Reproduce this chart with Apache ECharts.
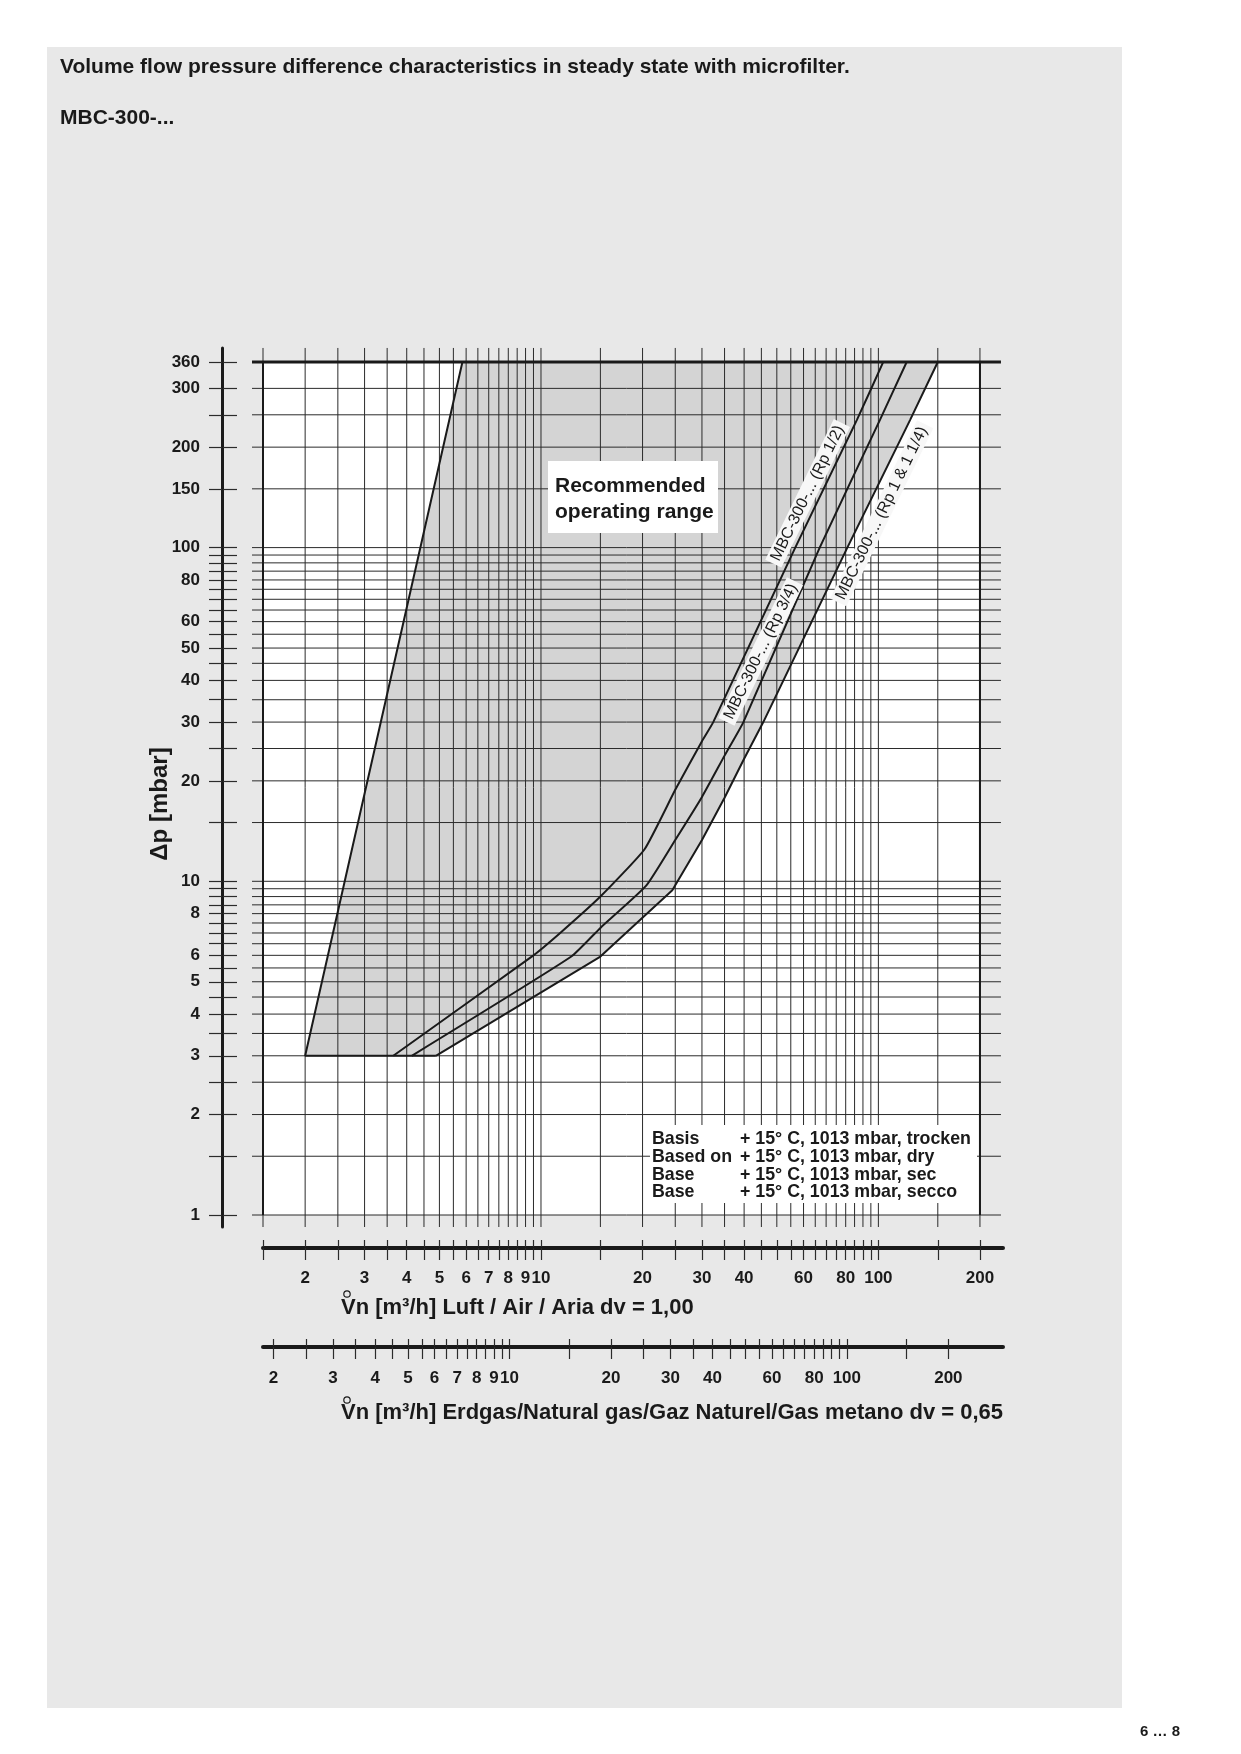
<!DOCTYPE html>
<html>
<head>
<meta charset="utf-8">
<title>MBC-300 Volumenstrom-Druckdifferenz</title>
<style>
  html, body { margin: 0; padding: 0; background: #fff; }
  #chart { width: 1241px; height: 1754px; }
</style>
</head>
<body>
<div id="chart"></div>
<script src="https://cdn.jsdelivr.net/npm/echarts@6/dist/echarts.min.js"></script>
<script>
// grid / tick values (m3/h air, mbar)
var xGrid = [1.5, 2, 2.5, 3, 3.5, 4, 4.5, 5, 5.5, 6, 6.5, 7, 7.5, 8, 8.5, 9, 9.5, 10,
  15, 20, 25, 30, 35, 40, 45, 50, 55, 60, 65, 70, 75, 80, 85, 90, 95, 100, 150, 200];
var yGrid = [1, 1.5, 2, 2.5, 3, 3.5, 4, 4.5, 5, 5.5, 6, 6.5, 7, 7.5, 8, 8.5, 9, 9.5, 10,
  15, 20, 25, 30, 35, 40, 45, 50, 55, 60, 65, 70, 75, 80, 85, 90, 95, 100, 150, 200, 250, 300, 360];
var gasTicks = [2, 2.5, 3, 3.5, 4, 4.5, 5, 5.5, 6, 6.5, 7, 7.5, 8, 8.5, 9, 9.5, 10,
  15, 20, 25, 30, 35, 40, 45, 50, 55, 60, 65, 70, 75, 80, 85, 90, 95, 100, 150, 200];
var yLabels = [1, 2, 3, 4, 5, 6, 8, 10, 20, 30, 40, 50, 60, 80, 100, 150, 200, 300, 360];
var airLabels = [2, 3, 4, 5, 6, 7, 8, 9, 10, 20, 30, 40, 60, 80, 100, 200];
var gasLabels = [2, 3, 4, 5, 6, 7, 8, 9, 10, 20, 30, 40, 60, 80, 100, 200];

// recommended range, left edge
var rangeLeft = [[2, 3], [5.85, 360]];
// characteristic curves [Vn air m3/h, dp mbar]
var rp12 = [[3.65, 3], [9.5, 6], [11.4, 7], [15, 9], [20.3, 12.5], [25, 18.8], [30, 26.3],
  [32.4, 30], [56.7, 100], [86.3, 241], [103.4, 360]];
var rp34 = [[4.14, 3], [12.3, 5.95], [15, 7.25], [20.5, 9.7], [25, 13.3], [30, 17.9], [35, 23.8],
  [39.8, 30], [67, 100], [101, 241], [121.3, 360]];
var rp1114 = [[4.88, 3], [15, 5.95], [24.5, 9.4], [30, 13.3], [35, 17.8], [40, 23.3],
  [45.6, 30], [80.9, 100], [124.1, 241], [150, 360]];

var curveNotes = [
  {text: 'MBC-300-... (Rp 1/2)', at: [61.7, 145.4]},
  {text: 'MBC-300-... (Rp 3/4)', at: [44.8, 48.8]},
  {text: 'MBC-300-... (Rp 1 & 1 1/4)', at: [102.3, 126.7]}
];

var L = Math.log10;
var X0 = 1.5, X1 = 200, Y0 = 1, Y1 = 360;
var DX = 337.4, DY = 333.7;      // px per decade
var PL = 263, PB = 1215;         // pixel of (X0, Y0)
var OV = {l: 11, r: 21, t: 14, b: 12};   // grid lines run past the frame
var K = Math.sqrt(1 / 0.65);     // air -> natural gas (dv = 0.65)
var AXIS_END = 1003;

var xExt = [L(X0) - OV.l / DX, L(X1) + OV.r / DX];
var yExt = [L(Y0) - OV.b / DY, L(Y1) + OV.t / DY];
var plotTop = PB - (L(Y1) - L(Y0)) * DY - OV.t;
var plotH = (yExt[1] - yExt[0]) * DY;
var plotW = (xExt[1] - xExt[0]) * DX;
var axW = AXIS_END - PL;
var airExt = [L(X0), L(X0) + axW / DX];
var gasExt = [L(X0 * K), L(X0 * K) + axW / DX];

var FONT = '"Liberation Sans", Arial, Helvetica, sans-serif';
var INK = '#1a1a1a';

function lg(arr) {
  return arr.map(function (p) { return [L(p[0]), L(p[1])]; });
}
function fmt(v) {
  return String(Math.round(Math.pow(10, v) * 10) / 10);
}
function polygon(points, fill) {
  return function (params, api) {
    var pts = lg(points).map(function (p) { return api.coord(p); });
    return {type: 'polygon', shape: {points: pts}, style: {fill: fill}};
  };
}
function hidden(gridIndex, min, max) {
  return {gridIndex: gridIndex, type: 'value', min: min, max: max, show: false};
}
function tickAxis(gridIndex, pos, ext, ticks, len, labels, margin, line) {
  return {
    gridIndex: gridIndex, type: 'value', position: pos, min: ext[0], max: ext[1],
    axisLine: {show: !!line, onZero: false, lineStyle: {color: INK, width: line || 1}},
    axisTick: {show: true, inside: false, length: len, customValues: ticks.map(L),
      lineStyle: {color: '#2b2b2b', width: 1.2}},
    axisLabel: labels ? {show: true, customValues: labels.map(L), formatter: fmt, margin: margin,
      color: INK, fontFamily: FONT, fontWeight: 'bold', fontSize: 17} : {show: false},
    splitLine: {show: false}
  };
}
function curve(name, pts, smooth, z) {
  return {type: 'line', name: name, data: lg(pts), symbol: 'none', silent: true, z: z || 6,
    smooth: smooth || false,
    lineStyle: {color: INK, width: 2}, xAxisIndex: 0, yAxisIndex: 0};
}

var range = rangeLeft.concat(rp1114.slice().reverse());
var frame = [[X0, Y0], [X1, Y0], [X1, Y1], [X0, Y1]];

var option = {
  animation: false,
  grid: [
    {left: PL - OV.l, top: plotTop, width: plotW, height: plotH},
    {left: 222, top: plotTop, width: 1, height: plotH},
    {left: PL, top: 1247, width: axW, height: 1},
    {left: PL, top: 1346, width: axW, height: 1}
  ],
  xAxis: [
    hidden(0, xExt[0], xExt[1]),
    hidden(1, 0, 1),
    tickAxis(2, 'top', airExt, xGrid, 7),
    tickAxis(2, 'bottom', airExt, xGrid, 12, airLabels, 22, 4),
    tickAxis(3, 'top', gasExt, gasTicks, 7),
    tickAxis(3, 'bottom', gasExt, gasTicks, 12, gasLabels, 23, 4)
  ],
  yAxis: [
    hidden(0, yExt[0], yExt[1]),
    tickAxis(1, 'left', yExt, yGrid, 13, yLabels, 22, 3),
    tickAxis(1, 'right', yExt, yGrid, 14),
    hidden(2, 0, 1),
    hidden(3, 0, 1)
  ],
  graphic: [
    {type: 'rect', z: -10, silent: true, shape: {x: 47, y: 47, width: 1075, height: 1661},
      style: {fill: '#e8e8e8'}},
    {type: 'text', x: 60, y: 67, silent: true, style: {text: 'Volume flow pressure difference characteristics in steady state with microfilter.',
      font: 'bold 21px ' + FONT, fill: INK, verticalAlign: 'middle'}},
    {type: 'text', x: 60, y: 118, silent: true, style: {text: 'MBC-300-...',
      font: 'bold 21px ' + FONT, fill: INK, verticalAlign: 'middle'}},
    {type: 'text', x: 160, y: 804, rotation: Math.PI / 2, silent: true, style: {text: 'Δp [mbar]',
      font: 'bold 24px ' + FONT, fill: INK, align: 'center', verticalAlign: 'middle'}},
    // range box
    {type: 'rect', z: 20, silent: true, shape: {x: 548, y: 461, width: 170, height: 72}, style: {fill: '#fff'}},
    {type: 'text', z: 21, x: 555, y: 499, silent: true, style: {text: 'Recommended\noperating range',
      font: 'bold 21px ' + FONT, fill: INK, verticalAlign: 'middle', lineHeight: 26}},
    // reference conditions
    {type: 'rect', z: 20, silent: true, shape: {x: 650, y: 1125, width: 327, height: 78}, style: {fill: '#fff'}},
    {type: 'text', z: 21, x: 652, y: 1166, silent: true, style: {text: 'Basis\nBased on\nBase\nBase',
      font: 'bold 17.8px ' + FONT, fill: INK, verticalAlign: 'middle', lineHeight: 17.7}},
    {type: 'text', z: 21, x: 740, y: 1166, silent: true, style: {
      text: '+ 15° C, 1013 mbar, trocken\n+ 15° C, 1013 mbar, dry\n+ 15° C, 1013 mbar, sec\n+ 15° C, 1013 mbar, secco',
      font: 'bold 17.8px ' + FONT, fill: INK, verticalAlign: 'middle', lineHeight: 17.7}},
    // axis titles
    {type: 'text', x: 341, y: 1308, silent: true, style: {text: 'Vn [m³/h] Luft / Air / Aria dv = 1,00',
      font: 'bold 22px ' + FONT, fill: INK, verticalAlign: 'middle'}},
    {type: 'circle', silent: true, shape: {cx: 347, cy: 1294, r: 3.2}, style: {fill: 'none', stroke: INK, lineWidth: 1.2}},
    {type: 'text', x: 341, y: 1413, silent: true, style: {text: 'Vn [m³/h] Erdgas/Natural gas/Gaz Naturel/Gas metano dv = 0,65',
      font: 'bold 22px ' + FONT, fill: INK, verticalAlign: 'middle'}},
    {type: 'circle', silent: true, shape: {cx: 347, cy: 1400, r: 3.2}, style: {fill: 'none', stroke: INK, lineWidth: 1.2}},
    {type: 'text', x: 1180, y: 1732, silent: true, style: {text: '6 … 8',
      font: 'bold 15px ' + FONT, fill: INK, align: 'right', verticalAlign: 'middle'}}
  ],
  series: [
    {type: 'custom', name: 'frame', xAxisIndex: 0, yAxisIndex: 0, z: 1, silent: true,
      data: [[L(X0), L(Y0)]], renderItem: polygon(frame, '#fff')},
    {type: 'custom', name: 'range', xAxisIndex: 0, yAxisIndex: 0, z: 2, silent: true,
      data: [[L(X0), L(Y0)]], renderItem: polygon(range, '#d4d4d4')},
    {type: 'custom', name: 'vgrid', xAxisIndex: 0, yAxisIndex: 0, z: 3, silent: true,
      data: xGrid.map(function (v) { return [L(v), yExt[0]]; }),
      renderItem: function (params, api) {
        var a = api.coord([api.value(0), yExt[0]]), b = api.coord([api.value(0), yExt[1]]);
        return {type: 'line', shape: {x1: a[0], y1: a[1], x2: b[0], y2: b[1]},
          style: {stroke: '#2b2b2b', lineWidth: 1}};
      }},
    {type: 'custom', name: 'hgrid', xAxisIndex: 0, yAxisIndex: 0, z: 3, silent: true,
      data: yGrid.map(function (v) { return [xExt[0], L(v)]; }),
      renderItem: function (params, api) {
        var top = yGrid[params.dataIndex] === Y1;
        var a = api.coord([xExt[0], api.value(1)]), b = api.coord([xExt[1], api.value(1)]);
        return {type: 'line', shape: {x1: a[0], y1: a[1], x2: b[0], y2: b[1]},
          style: {stroke: top ? INK : '#2b2b2b', lineWidth: top ? 3 : 1}};
      }},
    curve('left frame', [[X0, Y0], [X0, Y1]], false, 5),
    curve('right frame', [[X1, Y0], [X1, Y1]], false, 5),
    curve('range edge', [[rp1114[0][0], 3]].concat(rangeLeft)),
    curve('Rp 1/2', rp12, 0.15),
    curve('Rp 3/4', rp34, 0.15),
    curve('Rp 1 & 1 1/4', rp1114),
    {type: 'custom', name: 'notes', xAxisIndex: 0, yAxisIndex: 0, z: 8, silent: true,
      data: curveNotes.map(function (n) { return [L(n.at[0]), L(n.at[1])]; }),
      renderItem: function (params, api) {
        var p = api.coord([api.value(0), api.value(1)]);
        return {type: 'text', x: p[0], y: p[1], rotation: 64 * Math.PI / 180,
          style: {text: curveNotes[params.dataIndex].text, fontSize: 16, fontFamily: FONT,
            fill: INK, align: 'center', verticalAlign: 'middle',
            backgroundColor: '#f7f7f7', padding: [1, 4]}};
      }}
  ]
};

var chart = echarts.init(document.getElementById('chart'));
chart.setOption(option);
</script>
</body>
</html>
